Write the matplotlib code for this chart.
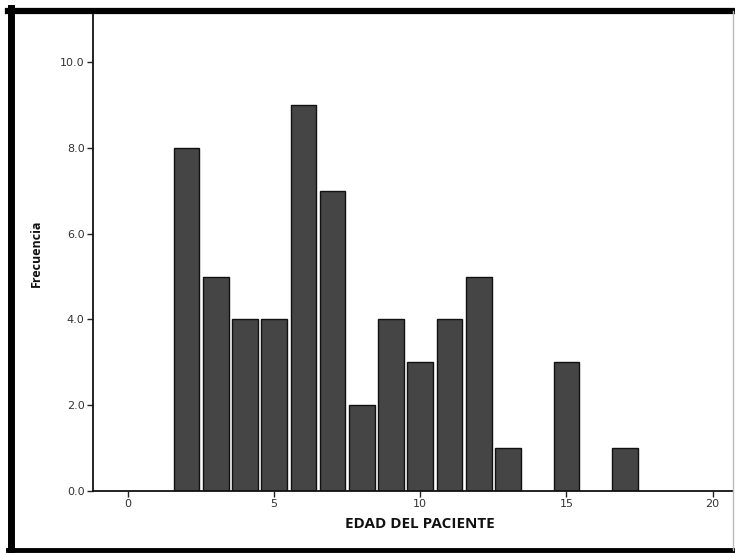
import matplotlib
matplotlib.use("Agg")
import matplotlib.pyplot as plt
from matplotlib.lines import Line2D

# Data
edades = [2, 3, 4, 5, 6, 7, 8, 9, 10, 11, 12, 13, 15, 17]
frecuencias = [8, 5, 4, 4, 9, 7, 2, 4, 3, 4, 5, 1, 3, 1]
xticks = [0, 5, 10, 15, 20]
yticks = [0, 2, 4, 6, 8, 10]
ytick_labels = ["0.0", "2.0", "4.0", "6.0", "8.0", "10.0"]

fig = plt.figure(figsize=(7.35, 5.53), dpi=100)
fig.patch.set_facecolor("white")
ax = fig.add_axes([93/735, 1-491/553, (733-93)/735, (491-15)/553])

ax.bar(edades, frecuencias, width=0.88, color="#454545", edgecolor="#111111",
       linewidth=1.0, zorder=2)

ax.set_xlim(-1.2, 20.7)
ax.set_ylim(0, 11.1)
ax.set_xticks(xticks)
ax.set_xticklabels([str(t) for t in xticks], fontsize=8, family="DejaVu Sans", color="#333333")
ax.set_yticks(yticks)
ax.set_yticklabels(ytick_labels, fontsize=8, family="DejaVu Sans", color="#333333")
ax.tick_params(axis="both", direction="out", length=4, width=1.0, colors="#222222", pad=2)
for lab in ax.get_xticklabels() + ax.get_yticklabels():
    lab.set_color("#333333")

for s in ["top", "right"]:
    ax.spines[s].set_visible(False)
for s in ["left", "bottom"]:
    ax.spines[s].set_linewidth(1.3)
    ax.spines[s].set_color("#111111")

ax.set_xlabel("EDAD DEL PACIENTE", fontsize=11, fontweight="bold",
              family="Open Sans", color="#111111")
ax.xaxis.set_label_coords((10 + 1.2) / 21.9, -0.055)
ax.set_ylabel("Frecuencia", fontsize=9, fontweight="bold",
              family="Open Sans", color="#111111")
ax.yaxis.set_label_coords(-0.078, 0.5)

# outer frame
W, H = 735, 553
def fl(x0, y0, x1, y1, lw, c):
    fig.add_artist(Line2D([x0/W, x1/W], [1-y0/H, 1-y1/H], lw=lw, color=c,
                          transform=fig.transFigure))
fl(11, 8, 11, 553, 5, "black")
fl(8, 11, 735, 11, 4.5, "black")
fl(8, 550, 735, 550, 3.5, "black")
fl(733, 11, 733, 550, 1.0, "#bbbbbb")

fig.savefig("out.png", dpi=100)
